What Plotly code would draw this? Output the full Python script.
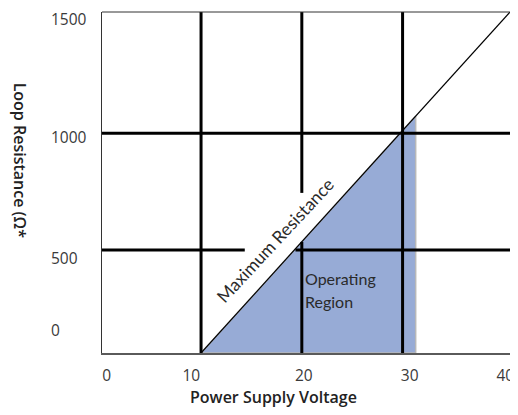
import plotly.graph_objects as go

# ---- data ----
# Maximum resistance line: supply voltage (V) vs loop resistance (ohm)
max_v = [10, 40.66]
max_r = [59, 1520]

# Operating region polygon (under the max-resistance line, up to ~31.3 V)
region_v = [10, 31.3, 31.3, 10]
region_r = [59, 1074, 59, 59]

# Grid line segments (value, start, end)
vgrid = [(10, 59, 1520), (20, 59, 535), (20, 745, 1520), (30, 59, 1520)]
hgrid = [(1000, 0.17, 40.66), (500, 0.17, 14.34), (500, 19.37, 40.66)]

# Tick labels and where they sit
x_tick_pos = [0.64, 9.03, 20.2, 30.7, 40.2]
x_tick_text = ["0", "10", "20", "30", "40"]
y_tick_pos = [1491, 983, 466, 158]
y_tick_text = ["1500", "1000", "500", "0"]

x_range = [0.17, 40.66]
y_range = [59, 1520]

fig = go.Figure()

# operating region fill
fig.add_trace(go.Scatter(
    x=region_v, y=region_r, mode="lines", fill="toself",
    fillcolor="#97ABD6", line=dict(color="#b8b8b8", width=1.5),
    hoverinfo="skip", showlegend=False))

# grid lines
gx, gy = [], []
for v, a, b in vgrid:
    gx += [v, v, None]
    gy += [a, b, None]
for r, a, b in hgrid:
    gx += [a, b, None]
    gy += [r, r, None]
fig.add_trace(go.Scatter(x=gx, y=gy, mode="lines",
                         line=dict(color="black", width=3),
                         hoverinfo="skip", showlegend=False))

# maximum resistance line
fig.add_trace(go.Scatter(x=max_v, y=max_r, mode="lines",
                         line=dict(color="black", width=1.2),
                         hoverinfo="skip", showlegend=False))

tick_font = dict(family="Open Sans", size=15.5, color="#3a3a3a")
title_font = dict(family="Open Sans", size=16, color="#222222", weight=600)
max_font = dict(family="Lato", size=17.5, color="#2a2a2a")
region_font = dict(family="Lato", size=16, color="#2a2a2a")

# plot area: 408 px wide, 341 px tall
annotations = []
for pos, txt in zip(y_tick_pos, y_tick_text):
    annotations.append(dict(xref="paper", yref="y", x=-0.130, y=pos, text=txt,
                            showarrow=False, xanchor="left", yanchor="middle",
                            font=tick_font))

annotations += [
    dict(xref="x", yref="paper", x=17.2, y=-0.128, text="Power Supply Voltage",
         showarrow=False, xanchor="center", yanchor="middle", font=title_font),
    dict(xref="paper", yref="y", x=-0.202, y=885, text="Loop Resistance (Ω*",
         showarrow=False, textangle=90, xanchor="center", yanchor="middle",
         font=title_font),
    dict(xref="x", yref="y", x=17.32, y=543, text="Maximum Resistance",
         showarrow=False, textangle=-47, xanchor="center", yanchor="middle",
         font=max_font),
    dict(xref="x", yref="y", x=20.1, y=380, text="Operating",
         showarrow=False, xanchor="left", yanchor="middle", font=region_font),
    dict(xref="x", yref="y", x=20.1, y=278, text="Region",
         showarrow=False, xanchor="left", yanchor="middle", font=region_font),
]

# the page has an 8 px body margin, so the figure is offset by 8 px
fig.update_layout(
    width=510, height=399,
    margin=dict(l=94, r=8, t=4, b=54),
    paper_bgcolor="white", plot_bgcolor="white",
    showlegend=False,
    annotations=annotations,
    shapes=[dict(type="line", xref="paper", yref="paper", x0=0, x1=1, y0=1, y1=1,
                 line=dict(color="#333333", width=1))],
)
fig.update_xaxes(range=x_range, showgrid=False, zeroline=False,
                 showline=True, linecolor="#5a5a5a", linewidth=2,
                 tickmode="array", tickvals=x_tick_pos, ticktext=x_tick_text,
                 ticks="outside", ticklen=7, tickcolor="rgba(0,0,0,0)",
                 tickfont=tick_font)
fig.update_yaxes(range=y_range, showgrid=False, zeroline=False,
                 showline=True, mirror=True, linecolor="#333333", linewidth=1,
                 showticklabels=False, ticks="")

fig.write_html("out.html")
